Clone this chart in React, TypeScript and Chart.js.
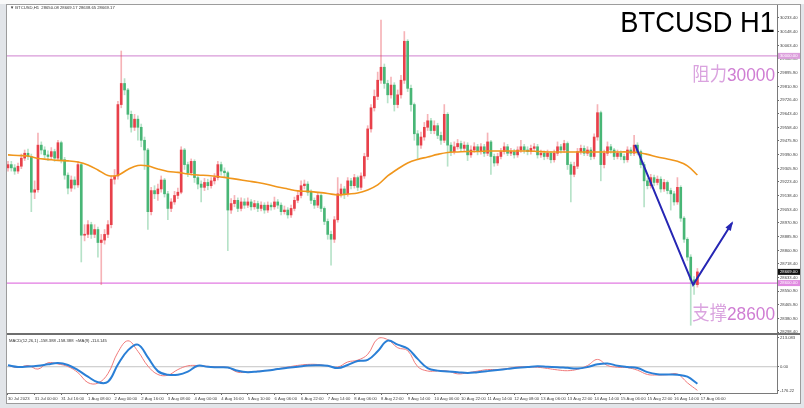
import React, { useEffect, useRef } from "react";
import { Chart, registerables } from "chart.js";

Chart.register(...registerables);

// ---------------- data ----------------
const xTickLabels = [
  "30 Jul 2023", "31 Jul 00:00", "31 Jul 16:00", "1 Aug 08:00", "2 Aug 00:00", "2 Aug 16:00",
  "3 Aug 08:00", "4 Aug 00:00", "4 Aug 16:00", "5 Aug 10:00", "6 Aug 06:00", "6 Aug 22:00",
  "7 Aug 14:00", "8 Aug 06:00", "8 Aug 22:00", "9 Aug 14:00", "10 Aug 06:00", "10 Aug 22:00",
  "11 Aug 14:00", "12 Aug 08:00", "13 Aug 06:00", "13 Aug 22:00", "14 Aug 14:00", "15 Aug 06:00",
  "15 Aug 22:00", "16 Aug 14:00", "17 Aug 06:00",
];
const barsPerTick = 8;

const firstOpen = 29310;
const closes = [
  29330, 29310, 29290, 29320, 29370, 29400, 29380, 29160, 29175, 29450,
  29420, 29390, 29380, 29410, 29370, 29465, 29360, 29265, 29185, 29235,
  29205, 29330, 28895, 28900, 28960, 28900, 28930, 28850, 28865, 28900,
  28960, 29240, 29260, 29700, 29830, 29790, 29640, 29560, 29610, 29560,
  29480, 29420, 29040, 29170, 29150, 29180, 29235, 29150, 29060, 29100,
  29140, 29160, 29420, 29330, 29280, 29350, 29250, 29210, 29190, 29220,
  29200, 29230, 29250, 29330, 29290, 29280, 29050, 29090, 29110, 29060,
  29100, 29080, 29100, 29070, 29090, 29060, 29080, 29050, 29080, 29070,
  29100, 29080, 29040, 29050, 29020, 29060, 29110, 29140, 29200, 29210,
  29160, 29110, 29080, 29140, 29060, 28980, 28900, 28870, 28990, 29150,
  29180, 29150, 29230, 29200, 29250, 29190, 29260, 29380, 29550, 29680,
  29750, 29850, 29930, 29830, 29760, 29820, 29700, 29760, 29850, 30090,
  29800, 29700, 29520, 29450, 29500, 29560, 29600, 29540, 29570, 29510,
  29480, 29640, 29450, 29410, 29440, 29460, 29430, 29450, 29390, 29420,
  29440, 29410, 29440, 29400, 29470, 29380, 29340, 29380, 29410, 29440,
  29400, 29410, 29390, 29420, 29440, 29420, 29410, 29430, 29440, 29390,
  29400, 29380, 29400, 29360, 29400, 29440, 29420, 29460, 29330, 29270,
  29320, 29410, 29430, 29400, 29420, 29380, 29500, 29650, 29330, 29400,
  29440, 29420, 29380, 29400, 29380, 29360, 29420, 29400, 29450, 29410,
  29330, 29230, 29200, 29250, 29220, 29240, 29180, 29220, 29170, 29150,
  29100, 29190, 29000, 28870, 28760, 28620, 28590, 28669,
];
const highs = [
  29350, 29350, 29330, 29340, 29395, 29420, 29425, 29395, 29230, 29525,
  29470, 29440, 29415, 29435, 29425, 29480, 29475, 29375, 29280, 29260,
  29255, 29350, 29340, 28960, 28985, 28975, 28960, 28945, 28900, 28930,
  28985, 29260, 29300, 29720, 30030, 29860, 29800, 29660, 29640, 29630,
  29580, 29500, 29430, 29190, 29200, 29210, 29260, 29245, 29165, 29120,
  29165, 29185, 29440, 29430, 29345, 29365, 29360, 29265, 29230, 29245,
  29240, 29250, 29275, 29350, 29345, 29310, 29290, 29120, 29140, 29125,
  29125, 29120, 29125, 29115, 29110, 29105, 29100, 29095, 29100, 29095,
  29130, 29115, 29095, 29075, 29065, 29080, 29130, 29165, 29230, 29235,
  29225, 29175, 29125, 29160, 29150, 29070, 28995, 28920, 29010, 29250,
  29210, 29195, 29250, 29245, 29270, 29260, 29280, 29400, 29570, 29700,
  29790, 29900, 30221, 29950, 29850, 29870, 29835, 29790, 29880, 30150,
  30100, 29820, 29710, 29540, 29530, 29590, 29640, 29615, 29600, 29585,
  29530, 29700, 29650, 29465, 29470, 29485, 29475, 29470, 29465, 29445,
  29465, 29455, 29460, 29455, 29525, 29480, 29395, 29400, 29430, 29465,
  29455, 29430, 29425, 29440, 29480, 29455, 29440, 29450, 29460, 29455,
  29420, 29415, 29420, 29410, 29420, 29470, 29455, 29480, 29470, 29345,
  29345, 29430, 29450, 29445, 29440, 29435, 29520, 29700, 29660, 29420,
  29470, 29455, 29430, 29420, 29415, 29395, 29440, 29435, 29510, 29465,
  29420, 29345, 29245, 29270, 29265, 29260, 29255, 29240, 29230, 29185,
  29165, 29250, 29200, 29010, 28880, 28775, 28640, 28690,
];
const lows = [
  29290, 29290, 29270, 29275, 29305, 29355, 29360, 29040, 29120, 29160,
  29395, 29370, 29355, 29365, 29350, 29355, 29340, 29240, 29150, 29165,
  29180, 29190, 28730, 28860, 28880, 28875, 28880, 28760, 28590, 28840,
  28880, 28940, 29210, 29240, 29680, 29760, 29610, 29530, 29540, 29480,
  29440, 29300, 28930, 29020, 29120, 29110, 29160, 29130, 28990, 29040,
  29085, 29120, 29150, 29300, 29255, 29265, 29220, 29180, 29100, 29170,
  29175, 29185, 29210, 29235, 29265, 29250, 28800, 29030, 29070, 29040,
  29045, 29060, 29065, 29050, 29055, 29040, 29045, 29030, 29035, 29050,
  29055, 29060, 29020, 29025, 29000, 29005, 29045, 29095, 29125, 29180,
  29140, 29090, 29060, 29065, 29040, 28960, 28870, 28710, 28850, 28975,
  29130, 29120, 29135, 29180, 29185, 29170, 29175, 29245, 29360, 29530,
  29660, 29730, 29830, 29800, 29710, 29740, 29660, 29680, 29740, 29830,
  29780, 29660, 29480, 29360, 29430, 29480, 29540, 29520, 29520, 29490,
  29455, 29465, 29320, 29385, 29395, 29425, 29410, 29415, 29355, 29375,
  29405, 29390, 29395, 29380, 29385, 29270, 29320, 29325, 29365, 29395,
  29385, 29385, 29370, 29375, 29405, 29400, 29390, 29395, 29415, 29370,
  29375, 29360, 29365, 29340, 29345, 29385, 29400, 29405, 29300, 29100,
  29255, 29305, 29395, 29385, 29385, 29360, 29365, 29480, 29230, 29310,
  29385, 29400, 29360, 29365, 29360, 29340, 29345, 29385, 29385, 29390,
  29310, 29070, 29180, 29185, 29200, 29205, 29160, 29165, 29150, 29050,
  29080, 29085, 28980, 28850, 28740, 28340, 28530, 28575,
];

const maStep = 3;
const maValues = [
  29390, 29386, 29383, 29368, 29362, 29356, 29353, 29346, 29328, 29297,
  29263, 29265, 29300, 29325, 29322, 29303, 29288, 29282, 29273, 29266,
  29263, 29257, 29248, 29239, 29229, 29220, 29208, 29192, 29180, 29168,
  29165, 29159, 29152, 29143, 29149, 29155, 29174, 29205, 29260, 29303,
  29340, 29362, 29377, 29393, 29405, 29408, 29411, 29411, 29414, 29414,
  29414, 29414, 29414, 29411, 29408, 29408, 29408, 29408, 29408, 29408,
  29408, 29408, 29408, 29405, 29393, 29377, 29365, 29350, 29322, 29266,
];

const macdStep = 3;
const macdMain = [
  8.9, -5.5, 8.2, -15.7, 26.6, 18.4, 1.4, -39.6, -106.5, -110,
  -46.4, 97, 174.2, 103.8, 4.8, -51.9, -56.7, -19.1, 6.1, 8.2,
  2.7, -2.7, -5.5, -36.9, -34.8, -30, -24.6, -14.3, -2, 8.9,
  15.7, 15, 5.5, -2, 32.1, 44.4, 83.3, 187.8, 182.4, 127.7,
  108.6, 1.4, -28.7, -28, -28.7, -47.8, -40.3, -29.4, -19.1, -19.1,
  -11.6, -1.4, -1.4, -3.4, -11.6, -21.2, -26.6, -17.1, 8.2, 49.2,
  8.2, -3.4, -6.1, -23.2, -51.9, -55.3, -53.3, -49.2, -107.9, -158.4,
];
const macdSignal = [
  9.6, -1.4, 1.4, 6.8, 16.4, 25.3, 11.6, -22.5, -66.9, -104.5,
  -101.1, 15, 110, 148.2, 62.8, -29.4, -53.3, -53.3, -32.8, 6.8,
  -0.7, -3.4, -5.5, -27.3, -36.9, -31.4, -25.3, -15.7, -6.8, 0,
  8.2, 9.6, 6.8, -8.9, 11.6, 38.9, 45.8, 103.8, 175.5, 148.2,
  122.3, 52.6, -8.9, -26, -31.4, -36.2, -41.7, -36.2, -29.4, -21.9,
  -14.3, -6.8, -1.4, 3.4, 0, -2.7, -7.5, -11.6, -2, 16.4,
  21.9, 6.8, -2, -8.2, -36.2, -50.5, -51.9, -53.3, -66.9, -114.1,
];

const priceTicks = [
  30233.4, 30148.4, 30063.4, 29980.9, 29895.9, 29810.9, 29726.4, 29643.4, 29558.4, 29475.9,
  29390.9, 29305.9, 29223.4, 29138.4, 29053.4, 28970.9, 28885.9, 28800.9, 28718.4, 28633.4,
  28550.9, 28465.9, 28380.9, 28298.4,
];
const macdTickLabels = ["213.083", "0.00", "-176.22"];

const resistance = 30000;
const support = 28600;
const arrowPath = [
  { bar: 188.3, price: 29451 },
  { bar: 205.7, price: 28589 },
  { bar: 217.4, price: 28970 },
];

const symbolTitle = "BTCUSD H1";
const resistanceWord = "阻力";
const supportWord = "支撑";
const headerText = "\u25BC BTCUSD,H1  28650.08 28669.17 28638.65 28669.17";
const macdHeader = "MACD(12,26,1) -158.388 -158.388  \u2248MA(9) -114.145";

// ---------------- view ----------------
const X_MIN = -0.3;
const X_MAX = 230.9;
const PRICE_MIN = 28292.4;
const PRICE_MAX = 30313.5;
const MACD_MIN = -176.22;
const MACD_MAX = 213.083;

const FONT = '"Liberation Sans", Arial, sans-serif';
const CJK = '"Noto Sans CJK SC", "Noto Sans", sans-serif';
const SMALL = 4.2;
const UP = "#e8404a";
const DOWN = "#48b676";
const UP_WICK = "rgba(232,64,74,0.4)";
const DOWN_WICK = "rgba(72,182,118,0.4)";
const ARROW = "#2626b4";
const PINK_LINE = "#d99ad9";
const MAGENTA_LINE = "#e27be2";

function drawTwoTone(ctx: any, word: string, num: string, rightX: number, baseline: number, size: number, sx: number) {
  ctx.save();
  ctx.translate(rightX, baseline);
  ctx.scale(sx, 1);
  ctx.textAlign = "right";
  ctx.textBaseline = "alphabetic";
  ctx.font = `${size}px ${FONT}`;
  ctx.fillStyle = "#cf7dd3";
  ctx.fillText(num, 0, 0);
  const w = ctx.measureText(num).width;
  ctx.font = `${size}px ${CJK}`;
  ctx.fillStyle = "#daa3df";
  ctx.fillText(word, -w, 0);
  ctx.restore();
}

const overlayPlugin = {
  id: "overlay",
  afterDraw(chart: any) {
    const { ctx, chartArea, scales } = chart;
    const xs = scales.x;
    const ys = scales.y;
    ctx.save();
    // arrow head
    const n = arrowPath.length;
    const x1 = xs.getPixelForValue(arrowPath[n - 2].bar);
    const y1 = ys.getPixelForValue(arrowPath[n - 2].price);
    const x2 = xs.getPixelForValue(arrowPath[n - 1].bar);
    const y2 = ys.getPixelForValue(arrowPath[n - 1].price);
    const ang = Math.atan2(y2 - y1, x2 - x1);
    ctx.fillStyle = ARROW;
    ctx.beginPath();
    ctx.moveTo(x2 + 2 * Math.cos(ang), y2 + 2 * Math.sin(ang));
    ctx.lineTo(x2 - 8 * Math.cos(ang - 0.4), y2 - 8 * Math.sin(ang - 0.4));
    ctx.lineTo(x2 - 8 * Math.cos(ang + 0.4), y2 - 8 * Math.sin(ang + 0.4));
    ctx.closePath();
    ctx.fill();

    // header
    ctx.font = `${SMALL}px ${FONT}`;
    ctx.fillStyle = "#333";
    ctx.textAlign = "left";
    ctx.textBaseline = "middle";
    ctx.fillText(headerText, chartArea.left + 3, chartArea.top + 2.5);

    // title
    ctx.save();
    ctx.translate(chartArea.right - 2, chartArea.top + 27);
    ctx.scale(0.91, 1);
    ctx.font = `30px ${FONT}`;
    ctx.fillStyle = "#000";
    ctx.textAlign = "right";
    ctx.textBaseline = "alphabetic";
    ctx.fillText(symbolTitle, 0, 0);
    ctx.restore();

    drawTwoTone(ctx, resistanceWord, String(resistance), chartArea.right - 2, ys.getPixelForValue(resistance) + 25, 19, 0.91);
    drawTwoTone(ctx, supportWord, String(support), chartArea.right - 2, ys.getPixelForValue(support) + 37, 19, 0.91);

    // price tags on axis
    const tag = (value: number, text: string, bg: string, fg: string) => {
      const py = ys.getPixelForValue(value);
      ctx.fillStyle = bg;
      ctx.fillRect(chartArea.right + 1, py - 3, 22, 6);
      ctx.fillStyle = fg;
      ctx.font = `${SMALL}px ${FONT}`;
      ctx.textAlign = "left";
      ctx.textBaseline = "middle";
      ctx.fillText(text, chartArea.right + 3, py);
    };
    tag(resistance, resistance.toFixed(2), "#dc9fdc", "#fff");
    tag(support, support.toFixed(2), "#e08ae0", "#fff");
    const last = closes[closes.length - 1];
    tag(last, last.toFixed(2), "#111", "#fff");
    ctx.restore();
  },
};

const macdPlugin = {
  id: "macdText",
  afterDraw(chart: any) {
    const { ctx, chartArea } = chart;
    ctx.save();
    ctx.font = `${SMALL}px ${FONT}`;
    ctx.fillStyle = "#333";
    ctx.textAlign = "left";
    ctx.textBaseline = "middle";
    ctx.fillText(macdHeader, chartArea.left + 2, chartArea.top + 6);
    ctx.restore();
  },
};

export default function App() {
  const mainRef = useRef<HTMLCanvasElement>(null);
  const macdRef = useRef<HTMLCanvasElement>(null);

  useEffect(() => {
    document.body.style.margin = "0";
    const opens = closes.map((c, i) => (i === 0 ? firstOpen : closes[i - 1]));
    const up = closes.map((c, i) => c >= opens[i]);

    const main = new Chart(mainRef.current as HTMLCanvasElement, {
      type: "bar",
      data: {
        datasets: [
          {
            type: "line",
            data: arrowPath.map((p) => ({ x: p.bar, y: p.price })),
            borderColor: ARROW,
            borderWidth: 2,
            pointRadius: 0,
            tension: 0,
            order: 0,
          } as any,
          {
            type: "line",
            data: maValues.map((v, j) => ({ x: j * maStep, y: v })),
            borderColor: "#f0961c",
            borderWidth: 1.6,
            pointRadius: 0,
            tension: 0.35,
            order: 1,
          } as any,
          {
            type: "bar",
            data: closes.map((c, i) => ({ x: i, y: [opens[i], c] })),
            backgroundColor: up.map((u) => (u ? UP : DOWN)),
            barThickness: 2,
            minBarLength: 1,
            grouped: false,
            order: 2,
          } as any,
          {
            type: "bar",
            data: closes.map((c, i) => ({ x: i, y: [lows[i], highs[i]] })),
            backgroundColor: up.map((u) => (u ? UP_WICK : DOWN_WICK)),
            barThickness: 1,
            grouped: false,
            order: 3,
          } as any,
          {
            type: "line",
            data: [{ x: X_MIN, y: resistance }, { x: X_MAX, y: resistance }],
            borderColor: PINK_LINE,
            borderWidth: 1.3,
            pointRadius: 0,
            order: 4,
          } as any,
          {
            type: "line",
            data: [{ x: X_MIN, y: support }, { x: X_MAX, y: support }],
            borderColor: MAGENTA_LINE,
            borderWidth: 1.3,
            pointRadius: 0,
            order: 4,
          } as any,
        ],
      },
      options: {
        animation: false,
        responsive: false,
        maintainAspectRatio: false,
        events: [],
        layout: { padding: 0 },
        plugins: { legend: { display: false }, tooltip: { enabled: false } },
        scales: {
          x: { type: "linear", min: X_MIN, max: X_MAX, display: false, offset: false },
          y: {
            position: "right",
            min: PRICE_MIN,
            max: PRICE_MAX,
            afterBuildTicks: (s: any) => {
              s.ticks = priceTicks.map((v) => ({ value: v }));
            },
            afterFit: (s: any) => {
              s.width = 23;
              s.paddingTop = 0;
              s.paddingBottom = 0;
            },
            ticks: {
              autoSkip: false,
              font: { size: SMALL, family: FONT },
              color: "#444",
              padding: 1,
              callback: (v: any) => Number(v).toFixed(2),
            },
            grid: { drawOnChartArea: false, drawTicks: true, tickLength: 2, tickColor: "#666" },
            border: { display: true, color: "#7a7a7a" },
          },
        },
      } as any,
      plugins: [overlayPlugin],
    });

    const macd = new Chart(macdRef.current as HTMLCanvasElement, {
      type: "line",
      data: {
        datasets: [
          {
            data: macdSignal.map((v, j) => ({ x: j * macdStep, y: v })),
            borderColor: "#2a7fd6",
            borderWidth: 2,
            pointRadius: 0,
            tension: 0.4,
            order: 0,
          },
          {
            data: macdMain.map((v, j) => ({ x: j * macdStep, y: v })),
            borderColor: "#f07a7a",
            borderWidth: 1,
            pointRadius: 0,
            tension: 0.4,
            order: 1,
          },
          {
            data: [{ x: X_MIN, y: 0 }, { x: X_MAX, y: 0 }],
            borderColor: "#c4c4c4",
            borderWidth: 1,
            pointRadius: 0,
            order: 2,
          },
        ],
      },
      options: {
        animation: false,
        responsive: false,
        maintainAspectRatio: false,
        events: [],
        layout: { padding: 0 },
        plugins: { legend: { display: false }, tooltip: { enabled: false } },
        scales: {
          x: {
            type: "linear",
            min: X_MIN,
            max: X_MAX,
            offset: false,
            afterBuildTicks: (s: any) => {
              s.ticks = xTickLabels.map((_, k) => ({ value: k * barsPerTick }));
            },
            afterFit: (s: any) => {
              s.height = 10;
              s.paddingLeft = 0;
              s.paddingRight = 0;
            },
            ticks: {
              autoSkip: false,
              maxRotation: 0,
              minRotation: 0,
              align: "start",
              padding: 1,
              font: { size: SMALL, family: FONT },
              color: "#444",
              callback: (_v: any, i: number) => xTickLabels[i],
            },
            grid: { drawOnChartArea: false, drawTicks: true, tickLength: 2, tickColor: "#666" },
            border: { display: true, color: "#7a7a7a" },
          },
          y: {
            position: "right",
            min: MACD_MIN,
            max: MACD_MAX,
            afterBuildTicks: (s: any) => {
              const unit = (MACD_MAX - MACD_MIN) / 58;
              s.ticks = [{ value: MACD_MAX - 2.5 * unit }, { value: 0 }, { value: MACD_MIN + 2.2 * unit }];
            },
            afterFit: (s: any) => {
              s.width = 23;
              s.paddingTop = 0;
              s.paddingBottom = 0;
            },
            ticks: {
              autoSkip: false,
              font: { size: SMALL, family: FONT },
              color: "#444",
              padding: 1,
              callback: (_v: any, i: number) => macdTickLabels[i],
            },
            grid: { drawOnChartArea: false, drawTicks: true, tickLength: 2, tickColor: "#666" },
            border: { display: true, color: "#7a7a7a" },
          },
        },
      } as any,
      plugins: [macdPlugin],
    });

    return () => {
      main.destroy();
      macd.destroy();
    };
  }, []);

  return (
    <div style={{ position: "relative", width: 804, height: 408, background: "#e2e5e9", overflow: "hidden" }}>
      <div style={{ position: "absolute", left: 0, top: 0, width: 804, height: 4, background: "#fafafa" }} />
      <div
        style={{
          position: "absolute",
          left: 6,
          top: 4,
          width: 795,
          height: 400,
          background: "#fff",
          border: "1px solid #9c9c9c",
          boxSizing: "border-box",
        }}
      />
      <canvas
        ref={mainRef}
        width={793}
        height={328}
        style={{ position: "absolute", left: 7, top: 5, width: 793, height: 328 }}
      />
      <div style={{ position: "absolute", left: 7, top: 333, width: 793, height: 2, background: "#6e6e6e" }} />
      <canvas
        ref={macdRef}
        width={793}
        height={68}
        style={{ position: "absolute", left: 7, top: 335, width: 793, height: 68 }}
      />
    </div>
  );
}
